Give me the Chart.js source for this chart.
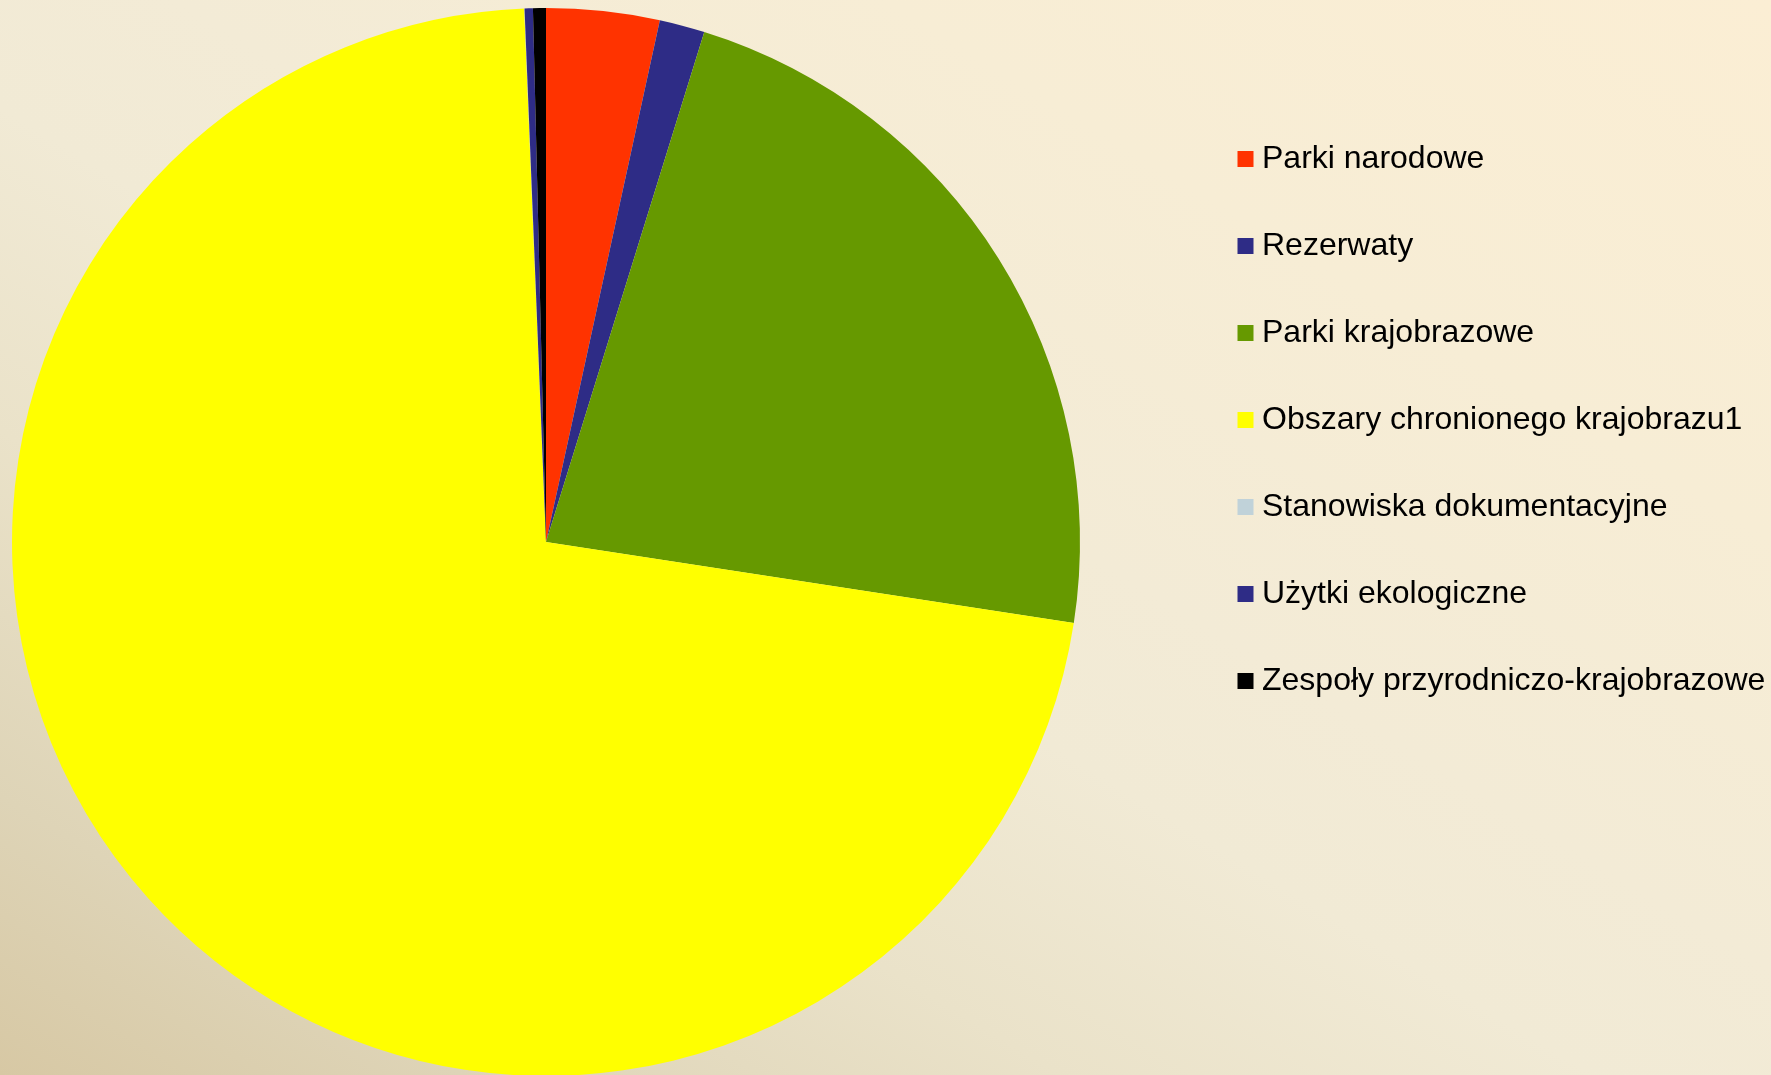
<!DOCTYPE html>
<html>
<head>
<meta charset="utf-8">
<script src="https://cdn.jsdelivr.net/npm/chart.js@4.4.1/dist/chart.umd.min.js"></script>
<style>
  html, body { margin: 0; padding: 0; }
  body {
    width: 1771px; height: 1075px; overflow: hidden;
    background: linear-gradient(to top right, #D7C8A4 0%, #DED4B7 13%, #EAE2C9 30%, #F1EAD5 45%, #F3EBD6 55%, #F7EDD5 75%, #FBEED4 100%);
  }
  #wrap { position: absolute; left: 0; top: 0; width: 1771px; height: 1075px; }
</style>
</head>
<body>
<div id="wrap"><canvas id="c" width="1771" height="1075"></canvas></div>
<script>
// Categories (legend labels)
const categories = [
  'Parki narodowe',
  'Rezerwaty',
  'Parki krajobrazowe',
  'Obszary chronionego krajobrazu1',
  'Stanowiska dokumentacyjne',
  'Użytki ekologiczne',
  'Zespoły przyrodniczo-krajobrazowe'
];
// Share of protected area (%)
const shares = [3.42, 1.37, 22.64, 71.93, 0.01, 0.25, 0.39];
// Slice colours
const sliceColors = ['#FF3300', '#2E2C86', '#669900', '#FFFF00', '#C0D2D9', '#2E2C86', '#000000'];

const fontSize = 32;
const rowGap = 55;

// Place the pie area and the legend box where the reference has them
const placement = {
  id: 'placement',
  afterLayout(chart) {
    const ca = chart.chartArea;
    ca.left = 12; ca.right = 1080; ca.top = 8; ca.bottom = 1076;
    ca.width = ca.right - ca.left; ca.height = ca.bottom - ca.top;
    const lg = chart.legend;
    const w = lg.width;
    lg.left = 1190; lg.right = lg.left + w;
    lg.top = 88; lg.bottom = 1075; lg.height = lg.bottom - lg.top;
  }
};

new Chart(document.getElementById('c'), {
  type: 'pie',
  data: {
    labels: categories,
    datasets: [{
      data: shares,
      backgroundColor: sliceColors,
      borderWidth: 0,
      hoverOffset: 0
    }]
  },
  plugins: [placement],
  options: {
    responsive: false,
    animation: false,
    devicePixelRatio: 1,
    plugins: {
      tooltip: { enabled: false },
      legend: {
        position: 'right',
        align: 'start',
        labels: {
          boxWidth: 1,
          boxHeight: 1,
          padding: rowGap,
          color: '#000000',
          font: { family: '"Liberation Sans", Arial, sans-serif', size: fontSize },
          generateLabels(chart) {
            return categories.map((text, i) => ({
              text,
              fillStyle: sliceColors[i],
              strokeStyle: sliceColors[i],
              lineWidth: 15,
              lineJoin: 'miter',
              fontColor: '#000000',
              hidden: false,
              index: i
            }));
          }
        }
      }
    }
  }
});
</script>
</body>
</html>
